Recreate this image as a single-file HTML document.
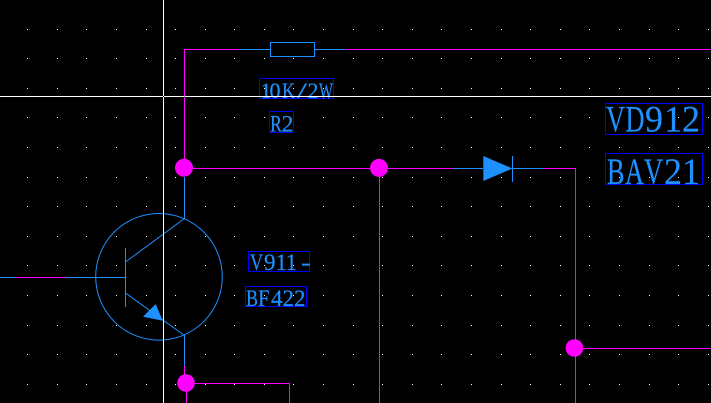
<!DOCTYPE html>
<html><head><meta charset="utf-8"><style>
html,body{margin:0;padding:0;background:#000;width:711px;height:403px;overflow:hidden}
svg{display:block}
text{font-family:"Liberation Serif",serif;fill:#1e90ff;stroke:#1e90ff;stroke-width:.2}
</style></head><body>
<svg width="711" height="403" viewBox="0 0 711 403" xmlns="http://www.w3.org/2000/svg">
<rect width="711" height="403" fill="#000"/>
<defs><g id="r" fill="#fff" shape-rendering="crispEdges">
<rect x="27" width="1" height="1"/><rect x="57" width="1" height="1"/><rect x="86" width="1" height="1"/><rect x="116" width="1" height="1"/><rect x="146" width="1" height="1"/><rect x="175" width="1" height="1"/><rect x="205" width="1" height="1"/><rect x="234" width="1" height="1"/><rect x="264" width="1" height="1"/><rect x="293" width="1" height="1"/><rect x="323" width="1" height="1"/><rect x="353" width="1" height="1"/><rect x="382" width="1" height="1"/><rect x="412" width="1" height="1"/><rect x="441" width="1" height="1"/><rect x="471" width="1" height="1"/><rect x="501" width="1" height="1"/><rect x="530" width="1" height="1"/><rect x="560" width="1" height="1"/><rect x="589" width="1" height="1"/><rect x="619" width="1" height="1"/><rect x="649" width="1" height="1"/><rect x="678" width="1" height="1"/><rect x="708" width="1" height="1"/>
</g></defs>
<use href="#r" y="29"/><use href="#r" y="58"/><use href="#r" y="88"/><use href="#r" y="117"/><use href="#r" y="147"/><use href="#r" y="177"/><use href="#r" y="206"/><use href="#r" y="236"/><use href="#r" y="265"/><use href="#r" y="295"/><use href="#r" y="325"/><use href="#r" y="354"/><use href="#r" y="384"/>

<g shape-rendering="crispEdges">
<g fill="#ff00ff">
<rect x="184" y="49" width="1" height="119"/>
<rect x="184" y="49" width="56" height="1"/>
<rect x="345" y="49" width="366" height="1"/>
<rect x="184" y="168" width="269" height="1"/>
<rect x="543" y="168" width="33" height="1"/>
<rect x="575" y="168" width="1" height="235"/>
<rect x="575" y="348" width="136" height="1"/>
<rect x="379" y="168" width="1" height="235"/>
<rect x="16" y="277" width="50" height="1"/>
<rect x="184" y="366" width="1" height="17"/>
<rect x="186" y="383" width="1" height="20"/>
<rect x="186" y="383" width="104" height="1"/>
<rect x="289" y="383" width="1" height="20"/>
</g>
<g fill="#1e90ff">
<rect x="240" y="49" width="30" height="1"/>
<rect x="315" y="49" width="30" height="1"/>
<rect x="453" y="168" width="30" height="1"/>
<rect x="512" y="168" width="31" height="1"/>
<rect x="512" y="156" width="1" height="26"/>
<rect x="0" y="277" width="16" height="1"/>
<rect x="66" y="277" width="59" height="1"/>
<rect x="125" y="248" width="1" height="59"/>
<rect x="184" y="177" width="1" height="42"/>
<rect x="184" y="335" width="1" height="31"/>
</g>
<rect x="270.5" y="42.5" width="44" height="14" fill="none" stroke="#1e90ff"/>
</g>

<g fill="none" stroke="#1e90ff" stroke-width="1">
<circle cx="159" cy="276.8" r="63.3"/>
<line x1="125.5" y1="262" x2="184.5" y2="218.5"/>
<line x1="125.5" y1="293" x2="184.5" y2="335.5"/>
</g>
<polygon points="155.7,304 143,316.7 162.7,320.7" fill="#1e90ff"/>
<polygon points="483.3,156 512.5,168.5 483.3,181" fill="#1e90ff"/>

<g fill="#ff00ff">
<circle cx="184" cy="167.7" r="9"/>
<circle cx="379" cy="167.9" r="9"/>
<circle cx="574.4" cy="348" r="8.8"/>
<circle cx="186" cy="383" r="8.8"/>
</g>

<g fill="none" stroke="#0000ff" shape-rendering="crispEdges">
<rect x="259.5" y="78.5" width="74" height="20"/>
<rect x="269.5" y="111.5" width="24" height="21"/>
<rect x="605.5" y="103.5" width="97" height="31"/>
<rect x="605.5" y="153.5" width="97" height="31"/>
<rect x="248.5" y="251.5" width="61" height="20"/>
<rect x="245.5" y="286.5" width="61" height="20"/>
</g>
<text y="98" font-size="22"><tspan x="260.5" textLength="11" lengthAdjust="spacingAndGlyphs">1</tspan><tspan x="269.5" textLength="11" lengthAdjust="spacingAndGlyphs">0</tspan><tspan x="282" textLength="13" lengthAdjust="spacingAndGlyphs">K</tspan><tspan x="297" textLength="10" lengthAdjust="spacingAndGlyphs">/</tspan><tspan x="307.5" textLength="11" lengthAdjust="spacingAndGlyphs">2</tspan><tspan x="319" textLength="14" lengthAdjust="spacingAndGlyphs">W</tspan></text>
<text y="131.5" font-size="23"><tspan x="270" textLength="12" lengthAdjust="spacingAndGlyphs">R</tspan><tspan x="281.5" textLength="12" lengthAdjust="spacingAndGlyphs">2</tspan></text>
<text y="131.5" font-size="37"><tspan x="606" textLength="19" lengthAdjust="spacingAndGlyphs">V</tspan><tspan x="625.5" textLength="19" lengthAdjust="spacingAndGlyphs">D</tspan><tspan x="645" textLength="18" lengthAdjust="spacingAndGlyphs">9</tspan><tspan x="664" textLength="18" lengthAdjust="spacingAndGlyphs">1</tspan><tspan x="682" textLength="18" lengthAdjust="spacingAndGlyphs">2</tspan></text>
<text y="184" font-size="37"><tspan x="607" textLength="17.5" lengthAdjust="spacingAndGlyphs">B</tspan><tspan x="625" textLength="19" lengthAdjust="spacingAndGlyphs">A</tspan><tspan x="644" textLength="19" lengthAdjust="spacingAndGlyphs">V</tspan><tspan x="664" textLength="18" lengthAdjust="spacingAndGlyphs">2</tspan><tspan x="682" textLength="18" lengthAdjust="spacingAndGlyphs">1</tspan></text>
<text y="270" font-size="23"><tspan x="250" textLength="13" lengthAdjust="spacingAndGlyphs">V</tspan><tspan x="264" textLength="11.5" lengthAdjust="spacingAndGlyphs">9</tspan><tspan x="275.5" textLength="11.5" lengthAdjust="spacingAndGlyphs">1</tspan><tspan x="285.5" textLength="11.5" lengthAdjust="spacingAndGlyphs">1</tspan><tspan x="301" textLength="10" lengthAdjust="spacingAndGlyphs">-</tspan></text>
<text y="306" font-size="23"><tspan x="246" textLength="12" lengthAdjust="spacingAndGlyphs">B</tspan><tspan x="258" textLength="11.5" lengthAdjust="spacingAndGlyphs">F</tspan><tspan x="271" textLength="11.5" lengthAdjust="spacingAndGlyphs">4</tspan><tspan x="282.5" textLength="11.5" lengthAdjust="spacingAndGlyphs">2</tspan><tspan x="294" textLength="11.5" lengthAdjust="spacingAndGlyphs">2</tspan></text>

<g shape-rendering="crispEdges">
<rect x="163" y="0" width="1" height="403" fill="#fff"/>
<rect x="0" y="96" width="711" height="1" fill="#fff"/>
<rect x="163" y="96" width="1" height="1" fill="#000"/>
<rect x="184" y="96" width="1" height="1" fill="#00ff00"/>
</g>
</svg>
</body></html>
